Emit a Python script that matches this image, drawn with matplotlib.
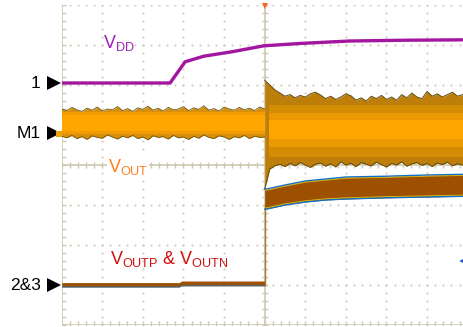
import numpy as np
import matplotlib
matplotlib.use("Agg")
import matplotlib.pyplot as plt

plt.rcParams['font.family'] = ['Liberation Sans', 'DejaVu Sans']
plt.rcParams['mathtext.fontset'] = 'custom'
plt.rcParams['mathtext.rm'] = 'Liberation Sans'
plt.rcParams['mathtext.it'] = 'Liberation Sans'
plt.rcParams['mathtext.bf'] = 'Liberation Sans:bold'

# VDD trace (divisions)
vdd_t = [0, 2.67, 3.04, 3.5, 4.19, 4.98, 5.9, 7.1, 8.5, 10]
vdd_v = [6.05, 6.05, 6.58, 6.72, 6.83, 6.98, 7.04, 7.10, 7.12, 7.13]

# VOUT envelope before trigger
vout_pre_t = [i * 0.125 for i in range(41)]
vout_pre_top = [5.40, 5.36, 5.44, 5.38, 5.34, 5.42, 5.37, 5.45, 5.35, 5.40, 5.38, 5.46, 5.36, 5.41,
                5.34, 5.43, 5.39, 5.47, 5.37, 5.42, 5.35, 5.44, 5.38, 5.40, 5.46, 5.36, 5.43, 5.39,
                5.48, 5.37, 5.41, 5.35, 5.45, 5.40, 5.37, 5.44, 5.38, 5.42, 5.36, 5.45, 5.40]
vout_pre_bot = [4.72, 4.68, 4.74, 4.66, 4.71, 4.64, 4.73, 4.69, 4.67, 4.75, 4.70, 4.65, 4.72, 4.68,
                4.74, 4.66, 4.70, 4.63, 4.73, 4.69, 4.71, 4.65, 4.74, 4.68, 4.70, 4.64, 4.72, 4.67,
                4.75, 4.69, 4.66, 4.73, 4.70, 4.64, 4.71, 4.68, 4.74, 4.66, 4.72, 4.69, 4.70]

# VOUT envelope after trigger
vout_post_t = [5.0 + i * 0.125 for i in range(40)]
vout_post_top = [6.12, 6.00, 5.88, 5.80, 5.72, 5.76, 5.68, 5.74, 5.70, 5.78, 5.82, 5.75, 5.66, 5.72,
                 5.64, 5.70, 5.78, 5.73, 5.62, 5.68, 5.60, 5.72, 5.66, 5.74, 5.64, 5.70, 5.62, 5.76,
                 5.68, 5.80, 5.70, 5.66, 5.84, 5.72, 5.78, 5.70, 5.76, 5.82, 5.72, 5.76]
vout_post_bot = [3.40, 3.90, 3.98, 4.02, 3.96, 4.04, 3.98, 4.06, 4.00, 3.94, 4.02, 4.05, 3.97, 4.03,
                 3.95, 4.08, 4.00, 4.04, 3.96, 4.06, 4.02, 3.98, 4.07, 4.01, 3.95, 4.04, 4.00, 4.08,
                 3.97, 4.03, 4.06, 3.99, 4.04, 3.96, 4.05, 4.01, 4.07, 3.98, 4.03, 4.00]

# VOUTP & VOUTN band
vp_pre_t = [0, 2.9, 2.95, 5.0]
vp_pre_top = [1.06, 1.06, 1.10, 1.10]
vp_pre_bot = [0.95, 0.95, 0.98, 0.98]
vp_post_t = [5.0, 5.05, 5.5, 6.0, 6.5, 7.0, 8.0, 9.0, 10]
vp_post_top = [3.40, 3.40, 3.50, 3.60, 3.65, 3.70, 3.72, 3.75, 3.77]
vp_post_bot = [2.90, 2.90, 3.00, 3.075, 3.125, 3.15, 3.18, 3.20, 3.22]

grid_c = '#CDC8B0'

fig = plt.figure(figsize=(4.64, 3.27), dpi=100)
ax = fig.add_axes([61.7 / 464, 2 / 327, 406 / 464, 320 / 327])
ax.set_xlim(0, 10)
ax.set_ylim(0, 8)
ax.axis('off')

# dotted graticule
dots_y = np.arange(0, 8.01, 0.2)
dots_x = np.arange(0, 10.01, 0.2)
for gx in [1, 2, 3, 4, 6, 7, 8, 9]:
    ax.plot([gx] * len(dots_y), dots_y, ls='none', marker='s', ms=1.3, mew=0, color=grid_c, zorder=1)
for gy in [1, 2, 3, 5, 6, 7, 8]:
    ax.plot(dots_x, [gy] * len(dots_x), ls='none', marker='s', ms=1.3, mew=0, color=grid_c, zorder=1)
# solid axes with ticks
ax.plot([0, 0], [0, 8], color=grid_c, lw=1.2, zorder=1)
ax.plot([0] * len(dots_y), dots_y, ls='none', marker='_', ms=6, color=grid_c, zorder=1)
ax.plot([5, 5], [0, 8], color=grid_c, lw=1.2, zorder=1)
ax.plot([5] * len(dots_y), dots_y, ls='none', marker='_', ms=5, color=grid_c, zorder=1)
ax.plot([0, 10], [4, 4], color=grid_c, lw=1.2, zorder=1)
ax.plot(dots_x, [4] * len(dots_x), ls='none', marker='|', ms=5, color=grid_c, zorder=1)
ax.plot([0, 10], [0, 0], color=grid_c, lw=1.2, zorder=1)
ax.plot(dots_x, [0] * len(dots_x), ls='none', marker='|', ms=6, color=grid_c, zorder=1)

# VOUT band before trigger
ax.fill_between(vout_pre_t, vout_pre_bot, vout_pre_top, color='#D8900A', lw=0, zorder=3)
ax.fill_between([0, 5], [4.78, 4.78], [5.32, 5.32], color='#F09C02', lw=0, zorder=3)
ax.fill_between([0, 5], [4.86, 4.86], [5.24, 5.24], color='#FFA500', lw=0, zorder=3)
ax.plot(vout_pre_t, vout_pre_top, color='#6A5418', lw=0.6, zorder=3)
ax.plot(vout_pre_t, vout_pre_bot, color='#6A5418', lw=0.6, zorder=3)

# VOUT band after trigger
ax.fill_between(vout_post_t, vout_post_bot, vout_post_top, color='#BE7E0A', lw=0, zorder=3)
ax.fill_between([5.1, 10], [4.2, 4.2], [5.5, 5.5], color='#D48C04', lw=0, zorder=3)
ax.fill_between([5.1, 10], [4.45, 4.45], [5.3, 5.3], color='#EA9902', lw=0, zorder=3)
ax.fill_between([5.1, 10], [4.65, 4.65], [5.12, 5.12], color='#FFA500', lw=0, zorder=3)
ax.plot(vout_post_t, vout_post_top, color='#5E4A12', lw=0.7, zorder=3)
ax.plot(vout_post_t, vout_post_bot, color='#5E4A12', lw=0.7, zorder=3)

# VOUTP & VOUTN band
ax.fill_between(vp_pre_t, vp_pre_bot, vp_pre_top, color='#9C5000', lw=0, zorder=4)
ax.plot(vp_pre_t, vp_pre_bot, color='#2070C0', lw=0.6, zorder=4)
ax.plot([5.0, 5.0], [1.0, 3.0], color='#A8782A', lw=1.0, zorder=4)
ax.fill_between(vp_post_t, vp_post_bot, vp_post_top, color='#9C5000', lw=0, zorder=4)
ax.plot(vp_post_t, vp_post_top, color='#1070C8', lw=1.0, zorder=4)
ax.plot(vp_post_t, [v - 0.03 for v in vp_post_top], color='#D8C020', lw=0.6, zorder=4)
ax.plot(vp_post_t, vp_post_bot, color='#1070C8', lw=1.0, zorder=4)
ax.plot(vp_post_t, [v + 0.03 for v in vp_post_bot], color='#D8C020', lw=0.6, zorder=4)

# VDD
ax.plot(vdd_t, vdd_v, color='#A3169F', lw=2.4, zorder=5)

# labels
ax.text(1.02, 6.93, r'$V_{DD}$', color='#A020C0', fontsize=13, va='baseline', zorder=6)
ax.text(1.14, 3.83, r'$V_{OUT}$', color='#FF7F20', fontsize=13, va='baseline', zorder=6,
        bbox=dict(facecolor='white', edgecolor='none', pad=0.5))
ax.text(1.19, 1.53, r'$V_{OUTP}$ & $V_{OUTN}$', color='#D01010', fontsize=13,
        va='baseline', zorder=6)

# channel markers
for lab, yv in [('1', 6.05), ('M1', 4.8), ('2&3', 1.0)]:
    ax.text(-0.52, yv, lab, fontsize=12.5, ha='right', va='center', color='black', clip_on=False)
    ax.plot([-0.2], [yv], marker='>', ms=10.5, color='black', mew=0, clip_on=False, zorder=7)
ax.plot([-0.07], [4.78], marker='s', ms=4.5, color='#F0A000', mew=0, clip_on=False, zorder=8)

# trigger marker and offscreen arrow
ax.plot([5.0], [7.97], marker='v', ms=5, color='#FF6020', mew=0, clip_on=False, zorder=8)
ax.annotate('', xy=(9.72, 1.6), xytext=(9.95, 1.6),
            arrowprops=dict(arrowstyle='-|>', color='#2060C0', lw=1.2, mutation_scale=6))

fig.savefig('out.png', dpi=100)
